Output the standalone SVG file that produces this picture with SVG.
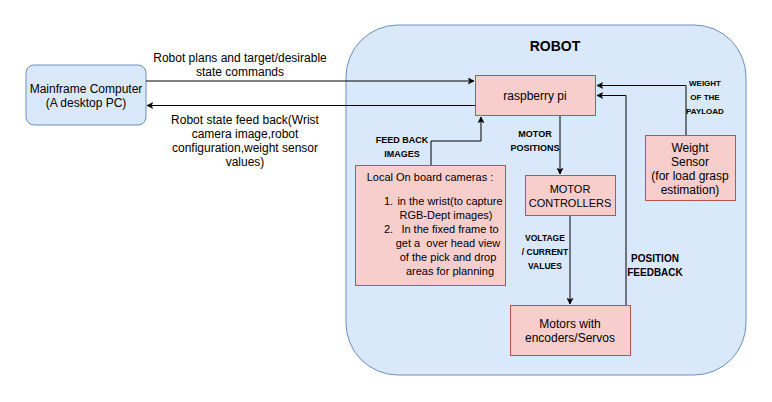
<svg xmlns="http://www.w3.org/2000/svg" width="772" height="402" viewBox="0 0 772 402">
<style>
.blue{fill:#dae8fc;stroke:#6c8ebf;stroke-width:1}
.red{fill:#f8cecc;stroke:#b85450;stroke-width:1}
text{font-family:"Liberation Sans",Arial,sans-serif;fill:#000}
.t{font-size:12px;text-anchor:middle}
.s{font-size:11px;text-anchor:middle}
.l{font-size:9px;font-weight:bold;text-anchor:middle}
.c{fill:none;stroke:#000;stroke-width:1;marker-end:url(#ah)}
</style>
<defs>
<marker id="ah" viewBox="0 0 10 10" refX="9" refY="5" markerWidth="7" markerHeight="7" orient="auto" markerUnits="userSpaceOnUse">
<path d="M1,1 L9,5 L1,9 L3,5 Z" fill="#000" stroke="#000"/>
</marker>
</defs>
<rect width="772" height="402" fill="#fff"/>
<g id="robot">
<rect class="blue" x="346" y="25" width="400" height="350" rx="52" ry="52"/>
<text x="555" y="51" style="font-size:14px;font-weight:bold;text-anchor:middle">ROBOT</text>
</g>
<g id="mainframe">
<rect class="blue" x="26" y="65" width="120" height="60" rx="8" ry="8"/>
<text class="t" x="86" y="93">Mainframe Computer</text>
<text class="t" x="86" y="107">(A desktop PC)</text>
</g>
<g id="raspberry">
<rect class="red" x="475.5" y="75.5" width="120" height="40"/>
<text class="t" x="535" y="100">raspberry pi</text>
</g>
<g id="cameras">
<rect class="red" x="355.5" y="165.5" width="150" height="120"/>
<text class="s" x="430" y="181">Local On board cameras :</text>
<text x="384" y="205" style="font-size:11px">1.</text>
<text class="s" x="450" y="205">in the wrist(to capture</text>
<text class="s" x="446" y="219">RGB-Dept images)</text>
<text x="384" y="233" style="font-size:11px">2.</text>
<text class="s" x="450" y="233">In the fixed frame to</text>
<text class="s" x="448" y="247">get a&#160; over head view</text>
<text class="s" x="448" y="261">of the pick and drop</text>
<text class="s" x="450" y="275">areas for planning</text>
</g>
<g id="controllers">
<rect class="red" x="525.5" y="175.5" width="90" height="40"/>
<text class="s" x="570" y="193">MOTOR</text>
<text class="s" x="570" y="207">CONTROLLERS</text>
</g>
<g id="motors">
<rect class="red" x="510.5" y="305.5" width="120" height="50"/>
<text class="t" x="570" y="328">Motors with</text>
<text class="t" x="570" y="342">encoders/Servos</text>
</g>
<g id="weight">
<rect class="red" x="645.5" y="135.5" width="90" height="65"/>
<text class="t" x="690" y="152">Weight</text>
<text class="t" x="690" y="166">Sensor</text>
<text class="t" x="690" y="180">(for load grasp</text>
<text class="t" x="690" y="194">estimation)</text>
</g>
<g id="connectors">
<path class="c" d="M146,81 L474,81"/>
<path class="c" d="M475,105.5 L147,105.5"/>
<path class="c" d="M431,165 L431,141 L481,141 L481,117"/>
<path class="c" d="M560,116 L560,174"/>
<path class="c" d="M570,216 L570,304"/>
<path class="c" d="M626,305 L626,95.5 L597,95.5"/>
<path class="c" d="M686,135 L686,85.5 L597,85.5"/>
<text class="t" x="240" y="62">Robot plans and target/desirable</text>
<text class="t" x="240" y="76">state commands</text>
<text class="t" x="245" y="124">Robot state feed back(Wrist</text>
<text class="t" x="245" y="138">camera image,robot</text>
<text class="t" x="245" y="152">configuration,weight sensor</text>
<text class="t" x="245" y="166">values)</text>
<text class="l" x="402" y="143">FEED BACK</text>
<text class="l" x="402" y="157">IMAGES</text>
<text class="l" x="535" y="137">MOTOR</text>
<text class="l" x="535" y="151">POSITIONS</text>
<text class="l" x="545" y="241" style="font-size:8.5px">VOLTAGE</text>
<text class="l" x="545" y="255" style="font-size:8.5px">/ CURRENT</text>
<text class="l" x="545" y="269" style="font-size:8.5px">VALUES</text>
<text class="l" x="655" y="262" style="font-size:10px">POSITION</text>
<text class="l" x="655" y="276" style="font-size:10px">FEEDBACK</text>
<text class="l" x="705" y="86" style="font-size:8px">WEIGHT</text>
<text class="l" x="705" y="100" style="font-size:8px">OF THE</text>
<text class="l" x="705" y="114" style="font-size:8px">PAYLOAD</text>
</g>
</svg>
